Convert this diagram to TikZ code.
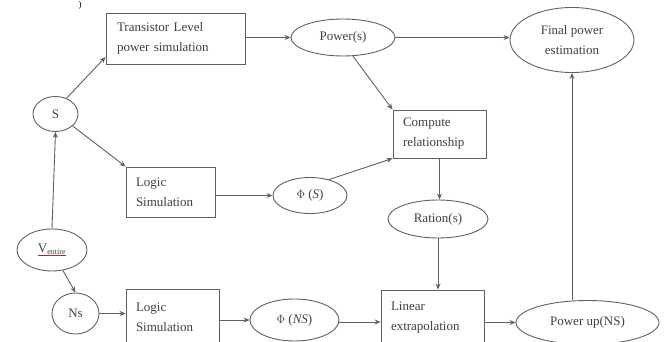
\documentclass[tikz,border=0pt]{standalone}
\usepackage{fontspec}
\setmainfont{Liberation Serif}
\usetikzlibrary{shapes.geometric,arrows.meta}
\definecolor{linegray}{gray}{0.38}
\definecolor{textgray}{gray}{0.25}
\definecolor{squiggle}{RGB}{170,40,50}
\begin{document}
\begin{tikzpicture}[x=1pt,y=-1pt,
  every node/.style={font=\fontsize{13}{20}\selectfont, text=textgray},
  procbox/.style={draw=linegray, line width=0.9pt, rectangle, inner sep=0pt, align=left},
  oval/.style={draw=linegray, line width=0.9pt, ellipse, inner sep=0pt, align=center},
  flow/.style={draw=linegray, line width=0.9pt, -{Stealth[length=6pt,width=5pt]}}]
\useasboundingbox (0,0) rectangle (664,342);
\fill[white] (0,0) rectangle (664,342);

% stray mark at the upper edge
\node[font=\fontsize{9}{9}\selectfont, text=black, inner sep=0pt] (mark) at (80,5) {)};

% process boxes
\node[procbox, minimum width=139pt, minimum height=51pt, text width=117pt] (trans) at (175.5,38.5)
  {Transistor Level\\power simulation};
\node[procbox, minimum width=93pt, minimum height=48pt, text width=73pt] (comp) at (439.5,134)
  {Compute\\relationship};
\node[procbox, minimum width=89pt, minimum height=50pt, text width=69pt] (logs) at (170.5,192)
  {Logic\\Simulation};
\node[procbox, minimum width=93pt, minimum height=56pt, text width=73pt] (logn) at (172.5,317)
  {Logic\\Simulation};
\node[procbox, minimum width=103pt, minimum height=56pt, text width=83pt] (lin) at (432.5,318)
  {Linear\\extrapolation};

% data ovals
\node[oval, minimum width=104pt, minimum height=37pt] (pows) at (343,37.5) {Power(s)};
\node[oval, minimum width=124pt, minimum height=65pt] (final) at (572,40) {Final power\\estimation};
\node[oval, minimum width=45pt, minimum height=35pt] (S) at (55.5,114) {S};
\node[oval, minimum width=74pt, minimum height=36pt] (phis) at (310,195.5) {$\Phi$ (\textit{S})};
\node[oval, minimum width=70pt, minimum height=42pt] (vent) at (52,250)
  {\textcolor{squiggle}{\underline{\textcolor{textgray}{V\textsubscript{\fontsize{8}{8}\selectfont entire}}}}};
\node[oval, minimum width=47pt, minimum height=41pt] (ns) at (75.5,313.5) {Ns};
\node[oval, minimum width=89pt, minimum height=42pt] (phins) at (294.5,320) {$\Phi$ (\textit{NS})};
\node[oval, minimum width=100pt, minimum height=38pt] (rat) at (438,219) {Ration(s)};
\node[oval, minimum width=143pt, minimum height=44pt] (pup) at (587.5,322.5) {Power up(NS)};

% connectors
\draw[flow] (S.55) -- (trans.south west |- 0,57);
\draw[flow] (S.-35) -- (logs.north west);
\draw[flow] (vent.north) -- (S.south);
\draw[flow] (vent.-62) -- (ns.north);
\draw[flow] (ns.east) -- (ns.east -| logn.west);
\draw[flow] (logn.east |- phins.west) -- (phins.west);
\draw[flow] (phins.east |- 0,322) -- (lin.west |- 0,322);
\draw[flow] (lin.east |- pup.west) -- (pup.west);
\draw[flow] (pup.north -| final.south) -- (final.south);
\draw[flow] (rat.south) -- (rat.south |- lin.north);
\draw[flow] (comp.south) -- (comp.south |- rat.north);
\draw[flow] (pows.-62) -- (comp.north west);
\draw[flow] (phis.40) -- (comp.south west);
\draw[flow] (trans.east |- pows.west) -- (pows.west);
\draw[flow] (pows.east) -- (pows.east -| final.west);
\draw[flow] (logs.east |- phis.west) -- (phis.west);
\end{tikzpicture}
\end{document}
